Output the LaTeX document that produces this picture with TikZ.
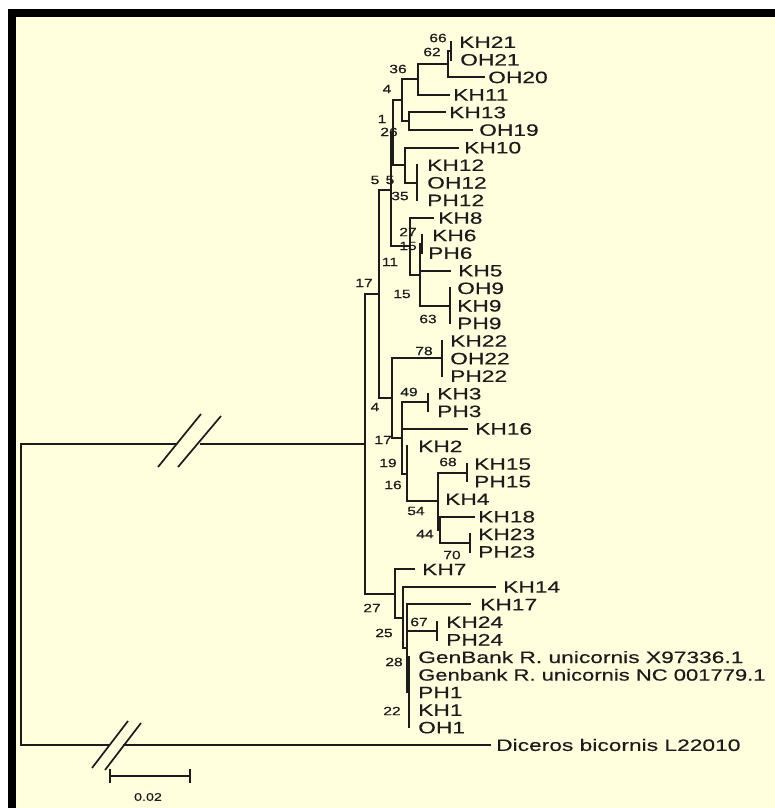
\documentclass[tikz,border=0pt]{standalone}
\usepackage{fontspec}
\setmainfont{Liberation Sans}
\newfontfamily\labfont[FakeStretch=1.38,FakeBold=0.35]{Liberation Sans}
\newfontfamily\labfontn[FakeStretch=1.35,FakeBold=0.35]{Liberation Sans}
\newfontfamily\bsfont[FakeStretch=1.3,FakeBold=0.6]{Liberation Sans}
\definecolor{bg}{RGB}{255,254,221}
\definecolor{ln}{RGB}{28,28,28}
\begin{document}
\begin{tikzpicture}[x=1pt,y=-1pt,
  br/.style={draw=ln,line width=2pt,line cap=rect},
  slashln/.style={draw=ln,line width=1.7pt},
  tip/.style={anchor=west,inner sep=0pt,text=ln,font=\labfont\fontsize{16.5}{18}\selectfont,text height=11.8pt,text depth=0pt},
  bs/.style={inner sep=0pt,text=ln,font=\bsfont\fontsize{12}{13}\selectfont},
  sc/.style={inner sep=0pt,text=ln,font=\bsfont\fontsize{11}{12}\selectfont}]
\useasboundingbox (0,0) rectangle (775,808);
% background and frame
\fill[white] (0,0) rectangle (775,808);
\fill[black] (8,9) rectangle (775,808);
\fill[bg] (16,17) rectangle (775,808);

% internal nodes
\coordinate (n1) at (451,50.8);
\coordinate (n2) at (448,64.0);
\coordinate (n3) at (418,79.4);
\coordinate (n4) at (409,121.1);
\coordinate (n5) at (402,100.2);
\coordinate (n6) at (417,182.6);
\coordinate (n7) at (405,165.0);
\coordinate (n8) at (393,132.6);
\coordinate (n9) at (422,244.1);
\coordinate (n10) at (450,305.6);
\coordinate (n11) at (420,274.9);
\coordinate (n12) at (410,246.3);
\coordinate (n13) at (391,189.5);
\coordinate (n14) at (442,358.4);
\coordinate (n15) at (428,402.3);
\coordinate (n16) at (467,472.6);
\coordinate (n17) at (470,542.9);
\coordinate (n18) at (440,529.7);
\coordinate (n19) at (438,501.2);
\coordinate (n20) at (407,473.7);
\coordinate (n21) at (402,438.0);
\coordinate (n22) at (392,398.2);
\coordinate (n23) at (379,293.9);
\coordinate (n24) at (437,630.8);
\coordinate (n25) at (409,692.3);
\coordinate (n26) at (407,648.4);
\coordinate (n27) at (403,617.6);
\coordinate (n28) at (395,593.5);
\coordinate (R) at (365,443.7);
\coordinate (root) at (21,594.4);

% tip branch ends
\coordinate (eKH21) at (451,42.0);
\coordinate (eOH21) at (451,59.6);
\coordinate (eOH20) at (484,77.2);
\coordinate (eKH11) at (449,94.7);
\coordinate (eKH13) at (445,112.3);
\coordinate (eOH19) at (472,129.9);
\coordinate (eKH10) at (458,147.5);
\coordinate (eKH12) at (417,165.0);
\coordinate (eOH12) at (417,182.6);
\coordinate (ePH12) at (417,200.2);
\coordinate (eKH8) at (433,217.8);
\coordinate (eKH6) at (422,235.3);
\coordinate (ePH6) at (422,252.9);
\coordinate (eKH5) at (450,270.5);
\coordinate (eOH9) at (450,288.1);
\coordinate (eKH9) at (450,305.6);
\coordinate (ePH9) at (450,323.2);
\coordinate (eKH22) at (442,340.8);
\coordinate (eOH22) at (442,358.4);
\coordinate (ePH22) at (442,375.9);
\coordinate (eKH3) at (428,393.5);
\coordinate (ePH3) at (428,411.1);
\coordinate (eKH16) at (467,428.7);
\coordinate (eKH2) at (407,446.2);
\coordinate (eKH15) at (467,463.8);
\coordinate (ePH15) at (467,481.4);
\coordinate (eKH4) at (438,499.0);
\coordinate (eKH18) at (474,516.5);
\coordinate (eKH23) at (470,534.1);
\coordinate (ePH23) at (470,551.7);
\coordinate (eKH7) at (414,569.3);
\coordinate (eKH14) at (495,586.8);
\coordinate (eKH17) at (470,604.4);
\coordinate (eKH24) at (437,622.0);
\coordinate (ePH24) at (437,639.6);
\coordinate (eGX) at (409,657.1);
\coordinate (eGN) at (409,674.7);
\coordinate (ePH1) at (409,692.3);
\coordinate (eKH1) at (409,709.9);
\coordinate (eOH1) at (409,727.4);
\coordinate (eDB) at (490,745.0);

% tip labels
\node[tip] (KH21) at (459,42.0) {KH21};
\node[tip] (OH21) at (460,59.6) {OH21};
\node[tip] (OH20) at (488,77.2) {OH20};
\node[tip] (KH11) at (453,94.7) {KH11};
\node[tip] (KH13) at (449,112.3) {KH13};
\node[tip] (OH19) at (479,129.9) {OH19};
\node[tip] (KH10) at (464,147.5) {KH10};
\node[tip] (KH12) at (427,165.0) {KH12};
\node[tip] (OH12) at (427,182.6) {OH12};
\node[tip] (PH12) at (427,200.2) {PH12};
\node[tip] (KH8) at (438,217.8) {KH8};
\node[tip] (KH6) at (432,235.3) {KH6};
\node[tip] (PH6) at (428,252.9) {PH6};
\node[tip] (KH5) at (458,270.5) {KH5};
\node[tip] (OH9) at (457,288.1) {OH9};
\node[tip] (KH9) at (457,305.6) {KH9};
\node[tip] (PH9) at (457,323.2) {PH9};
\node[tip] (KH22) at (450,340.8) {KH22};
\node[tip] (OH22) at (450,358.4) {OH22};
\node[tip] (PH22) at (450,375.9) {PH22};
\node[tip] (KH3) at (437,393.5) {KH3};
\node[tip] (PH3) at (437,411.1) {PH3};
\node[tip] (KH16) at (475,428.7) {KH16};
\node[tip] (KH2) at (418,446.2) {KH2};
\node[tip] (KH15) at (474,463.8) {KH15};
\node[tip] (PH15) at (474,481.4) {PH15};
\node[tip] (KH4) at (445,499.0) {KH4};
\node[tip] (KH18) at (478,516.5) {KH18};
\node[tip] (KH23) at (478,534.1) {KH23};
\node[tip] (PH23) at (478,551.7) {PH23};
\node[tip] (KH7) at (422,569.3) {KH7};
\node[tip] (KH14) at (503,586.8) {KH14};
\node[tip] (KH17) at (480,604.4) {KH17};
\node[tip] (KH24) at (446,622.0) {KH24};
\node[tip] (PH24) at (446,639.6) {PH24};
\node[tip] (GX) at (418,657.1) {GenBank R. unicornis X97336.1};
\node[tip,font=\labfontn\fontsize{16.3}{18}\selectfont] (GN) at (418,674.7) {Genbank R. unicornis NC 001779.1};
\node[tip] (PH1) at (418,692.3) {PH1};
\node[tip] (KH1) at (418,709.9) {KH1};
\node[tip] (OH1) at (418,727.4) {OH1};
\node[tip] (DB) at (496,745.0) {Diceros bicornis L22010};

% branches
\draw[br] (n1) |- (eKH21); \draw[br] (n1) |- (eOH21);
\draw[br] (n2) |- (n1); \draw[br] (n2) |- (eOH20);
\draw[br] (n3) |- (n2); \draw[br] (n3) |- (eKH11);
\draw[br] (n4) |- (eKH13); \draw[br] (n4) |- (eOH19);
\draw[br] (n5) |- (n3); \draw[br] (n5) |- (n4);
\draw[br] (n6) |- (eKH12); \draw[br] (n6) |- (ePH12); \draw[br] (n6) |- (eOH12);
\draw[br] (n7) |- (eKH10); \draw[br] (n7) |- (n6);
\draw[br] (n8) |- (n5); \draw[br] (n8) |- (n7);
\draw[br] (n9) |- (eKH6); \draw[br] (n9) |- (ePH6);
\draw[br] (n10) |- (eOH9); \draw[br] (n10) |- (ePH9); \draw[br] (n10) |- (eKH9);
\draw[br] (n11) |- (n9); \draw[br] (n11) |- (eKH5); \draw[br] (n11) |- (n10);
\draw[br] (n12) |- (eKH8); \draw[br] (n12) |- (n11);
\draw[br] (n13) |- (n8); \draw[br] (n13) |- (n12);
\draw[br] (n14) |- (eKH22); \draw[br] (n14) |- (ePH22); \draw[br] (n14) |- (eOH22);
\draw[br] (n15) |- (eKH3); \draw[br] (n15) |- (ePH3);
\draw[br] (n16) |- (eKH15); \draw[br] (n16) |- (ePH15);
\draw[br] (n17) |- (eKH23); \draw[br] (n17) |- (ePH23);
\draw[br] (n18) |- (eKH18); \draw[br] (n18) |- (n17);
\draw[br] (n19) |- (n16); \draw[br] (n19) |- (eKH4); \draw[br] (n19) |- (n18);
\draw[br] (n20) |- (eKH2); \draw[br] (n20) |- (n19);
\draw[br] (n21) |- (n15); \draw[br] (n21) |- (eKH16); \draw[br] (n21) |- (n20);
\draw[br] (n22) |- (n14); \draw[br] (n22) |- (n21);
\draw[br] (n23) |- (n13); \draw[br] (n23) |- (n22);
\draw[br] (n24) |- (eKH24); \draw[br] (n24) |- (ePH24);
\draw[br] (n25) |- (eGX); \draw[br] (n25) |- (eOH1);
\draw[br] (n26) |- (eKH17); \draw[br] (n26) |- (n24); \draw[br] (n26) |- (n25);
\draw[br] (n27) |- (eKH14); \draw[br] (n27) |- (n26);
\draw[br] (n28) |- (eKH7); \draw[br] (n28) |- (n27);
\draw[br] (R) |- (n23); \draw[br] (R) |- (n28);

% root branches with breaks
\coordinate (b1) at (176,443.7);
\coordinate (b2) at (201,443.7);
\coordinate (b3) at (109,745.0);
\coordinate (b4) at (124,745.0);
\draw[br] (root) |- (b1);
\draw[br] (b2) -- (R);
\draw[br] (root) |- (b3);
\draw[br] (b4) -- (eDB);
\coordinate (s1a) at (158,467); \coordinate (s1b) at (201,414);
\coordinate (s2a) at (178,467); \coordinate (s2b) at (221,416);
\coordinate (s3a) at (92,768); \coordinate (s3b) at (128,721);
\coordinate (s4a) at (105,770); \coordinate (s4b) at (141,723);
\draw[slashln] (s1a) -- (s1b);
\draw[slashln] (s2a) -- (s2b);
\draw[slashln] (s3a) -- (s3b);
\draw[slashln] (s4a) -- (s4b);

% bootstrap values
\node[bs] (bA) at (438,38) {66};
\node[bs] (bB) at (432,52) {62};
\node[bs] (bC) at (398,69) {36};
\node[bs] (bD) at (387,89) {4};
\node[bs] (bE) at (382,119) {1};
\node[bs] (bF) at (389,132) {26};
\node[bs] (bG) at (375,180) {5};
\node[bs] (bH) at (390,180) {5};
\node[bs] (bI) at (400,196) {35};
\node[bs] (bJ) at (408,232) {27};
\node[bs] (bK) at (408,246) {15};
\node[bs] (bL) at (390,262) {11};
\node[bs] (bM) at (364,283) {17};
\node[bs] (bN) at (402,294) {15};
\node[bs] (bO) at (428,319) {63};
\node[bs] (bP) at (424,351) {78};
\node[bs] (bQ) at (409,392) {49};
\node[bs] (bR) at (375,407) {4};
\node[bs] (bS) at (383,440) {17};
\node[bs] (bT) at (388,463) {19};
\node[bs] (bU) at (393,485) {16};
\node[bs] (bV) at (448,462) {68};
\node[bs] (bW) at (416,511) {54};
\node[bs] (bX) at (425,534) {44};
\node[bs] (bY) at (452,555) {70};
\node[bs] (bZ) at (372,608) {27};
\node[bs] (ba) at (419,622) {67};
\node[bs] (bb) at (384,633) {25};
\node[bs] (bc) at (394,662) {28};
\node[bs] (bd) at (392,711) {22};

% scale bar
\coordinate (sb1) at (110,776);
\coordinate (sb2) at (190,776);
\draw[br,line width=1.6pt] (sb1) -- (sb2);
\draw[br,line width=1.6pt] ([yshift=-6pt]sb1) -- ([yshift=6pt]sb1);
\draw[br,line width=1.6pt] ([yshift=-6pt]sb2) -- ([yshift=6pt]sb2);
\node[sc] (sbl) at (148,797) {0.02};
\end{tikzpicture}
\end{document}
